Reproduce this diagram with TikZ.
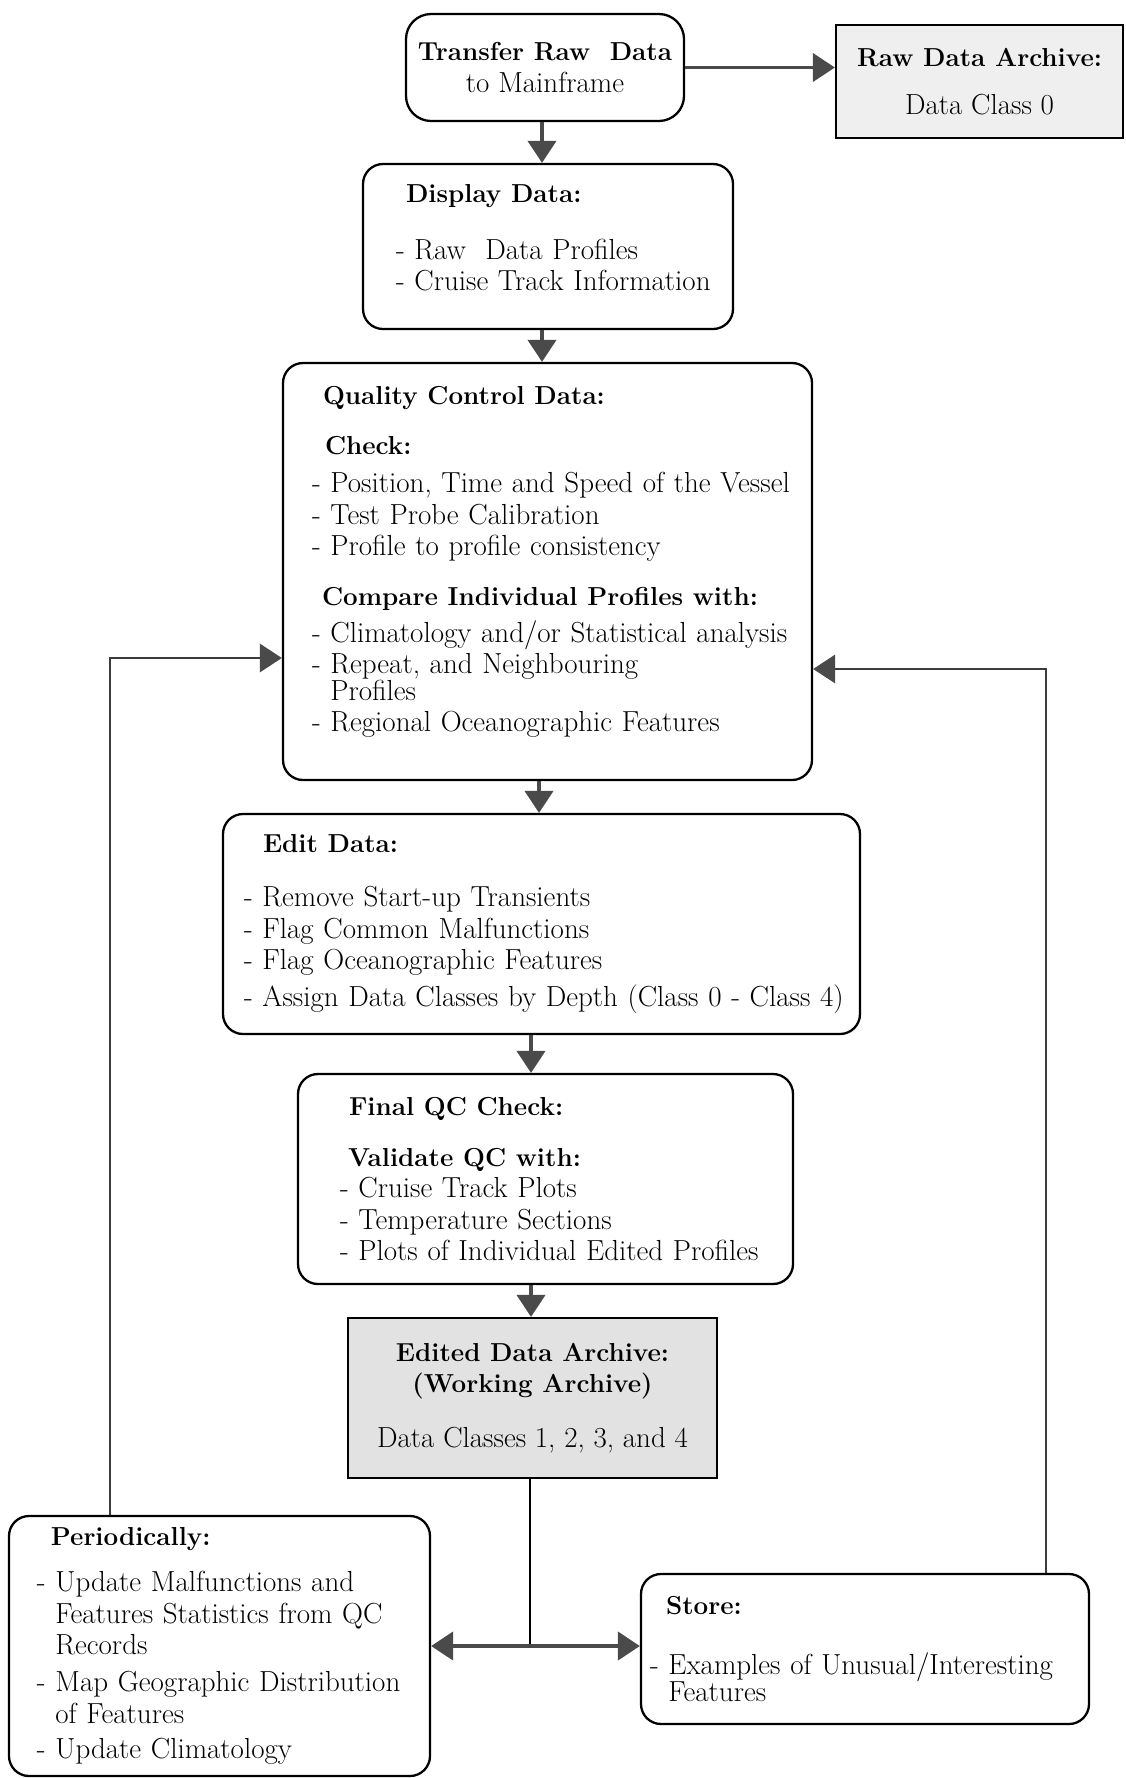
\documentclass[tikz,border=0pt]{standalone}
\usepackage{fontspec}
\usepackage{xcolor}
\definecolor{arrowgray}{HTML}{4A4A4A}
\definecolor{linegray}{HTML}{3C3C3C}
\definecolor{archivegray}{HTML}{E2E2E2}
\definecolor{rawgray}{HTML}{EFEFEF}
\newcommand\hd[1]{{\fontsize{14.8}{18}\selectfont\bfseries #1}}
\newcommand\ind{\hphantom{- }}
\usetikzlibrary{arrows.meta,calc,positioning}
\tikzset{
    box/.style ={draw, rounded corners=0.4cm, line width=1.3pt, align=left, inner xsep=0pt,
                 font=\fontsize{16.5}{18}\selectfont},
    cbox/.style ={draw, line width=1.3pt, align=center, font=\fontsize{16.5}{18}\selectfont},
    flow/.style = {-{Triangle[length=12.5pt,width=16pt]}, arrowgray, line width=2.1pt},
    twoway/.style = {{Triangle[length=12.5pt,width=16pt]}-{Triangle[length=12.5pt,width=16pt]}, arrowgray, line width=2.1pt},
    back/.style = {-{Triangle[length=12.5pt,width=16pt,color=arrowgray]}, linegray, line width=1.6pt}
}
\begin{document}
\begin{tikzpicture}
    \useasboundingbox (0,0) rectangle (22.52,-35.56);
    % top row
    \node[cbox, rounded corners=0.5cm, minimum width=5.56cm, minimum height=2.14cm] (tr) at (10.9,-1.35)
        {\hd{Transfer Raw\ \ Data}\\ to Mainframe};
    \node[cbox, fill=rawgray, minimum width=5.74cm, minimum height=2.26cm] (ra) at (19.59,-1.63)
        {\hd{Raw Data Archive:}\\[9pt] Data Class 0};
    % main column
    \node[box, text width=7.4cm, minimum height=3.3cm] (dd) at (10.96,-4.93)
        {\leftskip=0.66cm
         \hspace*{0.2cm}\hd{Display Data:}\\[14pt]
         - Raw\ \ Data Profiles\\
         - Cruise Track Information\\[-8pt]
         \mbox{}\par};
    \node[box, text width=10.58cm, minimum height=8.34cm] (qc) at (10.95,-11.43)
        {\leftskip=0.58cm
         \hspace*{0.22cm}\hd{Quality Control Data:}\\[10pt]
         \hspace*{0.26cm}\hd{Check:}\\[4pt]
         - Position, Time and Speed of the Vessel\\
         - Test Probe Calibration\\
         - Profile to profile consistency\\[10pt]
         \hspace*{0.2cm}\hd{Compare Individual Profiles with:}\\[3pt]
         - Climatology and/or Statistical analysis\\
         - Repeat, and Neighbouring\\[-3pt]
         \ind Profiles\\
         - Regional Oceanographic Features\\[-4pt]
         \mbox{}\par};
    \node[box, text width=12.74cm, minimum height=4.4cm] (ed) at (10.83,-18.48)
        {\leftskip=0.42cm
         \hspace*{0.38cm}\hd{Edit Data:}\\[13pt]
         - Remove Start-up Transients\\
         - Flag Common Malfunctions\\
         - Flag Oceanographic Features\\[3pt]
         - Assign Data Classes by Depth (Class 0 - Class 4)\par};
    \node[box, text width=9.9cm, minimum height=4.2cm] (fq) at (10.91,-23.58)
        {\leftskip=0.84cm
         \hspace*{0.18cm}\hd{Final QC Check:}\\[11pt]
         \hspace*{0.16cm}\hd{Validate QC with:}\\
         - Cruise Track Plots\\
         - Temperature Sections\\
         - Plots of Individual Edited Profiles\par};
    \node[cbox, fill=archivegray, minimum width=7.38cm, minimum height=3.2cm] (ea) at (10.65,-27.96)
        {\hd{Edited Data Archive:}\\ \hd{(Working Archive)}\\[13pt] Data Classes 1, 2, 3, and 4};
    % bottom row
    \node[box, text width=8.42cm, minimum height=5.2cm] (pe) at (4.39,-32.92)
        {\leftskip=0.56cm
         \hspace*{0.28cm}\hd{Periodically:}\\[8pt]
         - Update Malfunctions and\\
         \ind Features Statistics from QC\\
         \ind Records\\[3pt]
         - Map Geographic Distribution\\
         \ind of Features\\[2pt]
         - Update Climatology\par};
    \node[box, text width=8.96cm, minimum height=3.0cm] (st) at (17.3,-32.98)
        {\leftskip=0.18cm
         \hspace*{0.32cm}\hd{Store:}\\[16pt]
         - Examples of Unusual/Interesting\\[-3pt]
         \ind Features\par};

    \coordinate (split) at ([xshift=-0.05cm]ea.south |- pe.east);
    \coordinate (lback) at (2.2,-13.16);
    \coordinate (rback) at (20.92,-13.38);

    % flow arrows
    \draw[flow] (tr.east) -- (tr.east -| ra.west);
    \draw[flow] ([xshift=-0.06cm]tr.south) -- ([xshift=-0.06cm]tr.south |- dd.north);
    \draw[flow] ([xshift=-0.12cm]dd.south) -- ([xshift=-0.12cm]dd.south |- qc.north);
    \draw[flow] ([xshift=-0.17cm]qc.south) -- ([xshift=-0.17cm]qc.south |- ed.north);
    \draw[flow] ([xshift=-0.21cm]ed.south) -- ([xshift=-0.21cm]ed.south |- fq.north);
    \draw[flow] ([xshift=-0.29cm]fq.south) -- ([xshift=-0.29cm]fq.south |- ea.north);
    \draw[black, line width=1.7pt] (split |- ea.south) -- (split);
    \draw[twoway] (pe.east) -- (pe.east -| st.west);
    % feedback loops
    \draw[back] (pe.north -| lback) |- (qc.west |- lback);
    \draw[back] (st.north -| rback) |- (qc.east |- rback);
\end{tikzpicture}
\end{document}
